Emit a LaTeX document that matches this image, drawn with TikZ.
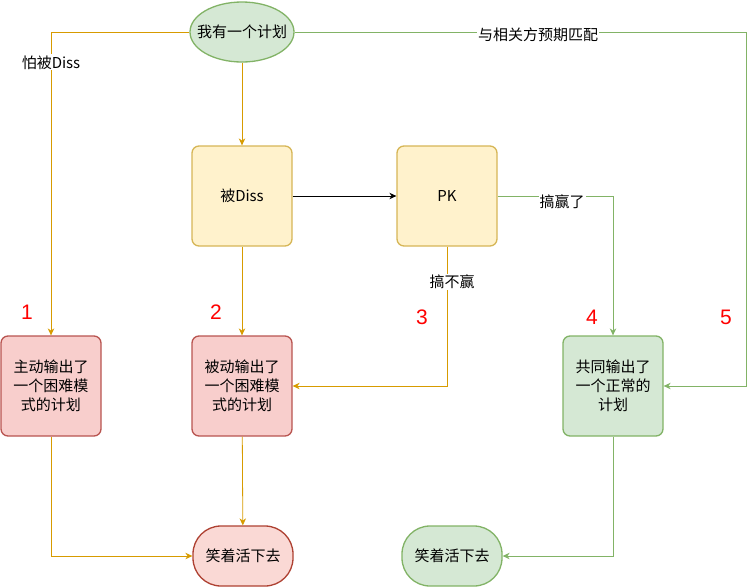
\documentclass[tikz,border=0pt]{standalone}
\usepackage{fontspec}
\setmainfont{Noto Sans CJK SC}
\newfontfamily\numfont{Liberation Sans}
\usetikzlibrary{arrows.meta,shapes.geometric}
\definecolor{gfill}{HTML}{D5E8D4}
\definecolor{gdraw}{HTML}{82B366}
\definecolor{yfill}{HTML}{FFF2CC}
\definecolor{ydraw}{HTML}{D6B656}
\definecolor{rfill}{HTML}{F8CECC}
\definecolor{rdraw}{HTML}{B85450}
\definecolor{tfill}{HTML}{FAD9D5}
\definecolor{tdraw}{HTML}{AE4132}
\definecolor{orange}{HTML}{D79B00}
\tikzset{
  every node/.style={font=\fontsize{15}{19}\selectfont},
  box/.style={rectangle, rounded corners=7pt, minimum width=100pt, minimum height=100pt, line width=1.3pt, align=center, text width=94pt, inner sep=0pt},
  ybox/.style={box, fill=yfill, draw=ydraw},
  rbox/.style={box, fill=rfill, draw=rdraw},
  gbox/.style={box, fill=gfill, draw=gdraw},
  term/.style={rectangle, rounded corners=28pt, minimum width=100pt, minimum height=60pt, line width=1.3pt},
  oarr/.style={draw=orange, line width=0.8pt, -{Stealth[length=7pt,width=6.5pt]}},
  garr/.style={draw=gdraw, line width=0.8pt, -{Stealth[length=7pt,width=6.5pt]}},
  lbl/.style={fill=white, inner sep=1pt},
  num/.style={text=red, font=\numfont\fontsize{21}{24}\selectfont}
}
\begin{document}
\begin{tikzpicture}[x=1pt,y=-1pt]
\useasboundingbox (0,0) rectangle (755,587);
\node[ellipse, fill=gfill, draw=gdraw, line width=1.3pt, minimum width=104pt, minimum height=60pt, inner sep=0pt] (plan) at (242,32) {};
\node (plantext) at (plan) {我有一个计划};
\node[ybox] (diss) at (242,196) {被Diss};
\node[ybox] (pk) at (447,196) {PK};
\node[rbox] (b1) at (51,386) {主动输出了\\一个困难模\\式的计划};
\node[rbox] (b2) at (242,386) {被动输出了\\一个困难模\\式的计划};
\node[gbox] (b4) at (613,386) {共同输出了\\一个正常的\\计划};
\node[term, fill=tfill, draw=tdraw] (t1) at (243,556) {笑着活下去};
\node[term, fill=gfill, draw=gdraw] (t2) at (452,556) {笑着活下去};

\coordinate (c1) at (51,32);
\coordinate (c5a) at (746,32);
\coordinate (c5b) at (746,386);
\coordinate (c3) at (447,386);
\coordinate (c4) at (613,196);
\coordinate (cb1) at (51,556);
\coordinate (cb4) at (613,556);

\draw[oarr] (plan) -- (diss);
\draw[oarr] (plan.west) -- (c1) -- (b1.north) node[pos=0.1, lbl] {怕被Diss};
\draw[garr] (plan.east) -- (c5a) -- (c5b) -- (b4.east);
\node[lbl] (l5) at (538,35) {与相关方预期匹配};
\draw[-{Stealth[length=7pt,width=6.5pt]}, line width=0.8pt] (diss) -- (pk);
\draw[garr] (pk.east) -- (c4) -- (b4.north);
\node[lbl] (l4) at (562,202) {搞赢了};
\draw[oarr] (pk.south) -- (c3) -- (b2.east);
\node[lbl] (l3) at (452,282) {搞不赢};
\draw[oarr] (diss) -- (b2);
\draw[oarr] (b2) -- (t1);
\draw[oarr] (b1.south) -- (cb1) -- (t1.west);
\draw[garr] (b4.south) -- (cb4) -- (t2.east);

\node[num] (n1) at (27,312) {1};
\node[num] (n2) at (216,312) {2};
\node[num] (n3) at (422,317) {3};
\node[num] (n4) at (592,317) {4};
\node[num] (n5) at (726,317) {5};
\end{tikzpicture}
\end{document}
